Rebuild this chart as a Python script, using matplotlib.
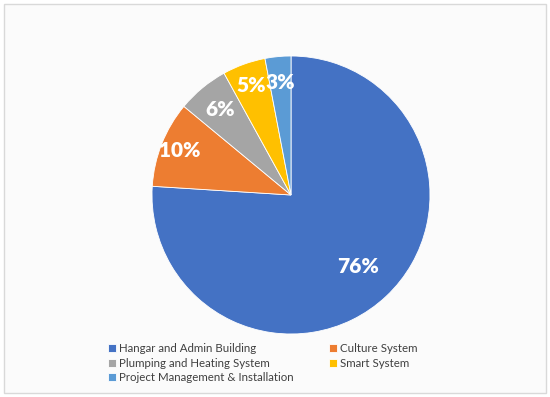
import matplotlib
matplotlib.use("Agg")
import matplotlib.pyplot as plt
import numpy as np
from matplotlib.patches import Rectangle

categories = ["Hangar and Admin Building", "Culture System",
              "Plumping and Heating System", "Smart System",
              "Project Management & Installation"]
values = [76, 10, 6, 5, 3]
labels = ["76%", "10%", "6%", "5%", "3%"]
colors = ["#4472C4", "#ED7D31", "#A5A5A5", "#FFC000", "#5B9BD5"]
label_dist = [0.71, 0.86, 0.80, 0.84, 0.81]

plt.rcParams['font.family'] = ['Lato', 'DejaVu Sans']

fig = plt.figure(figsize=(5.5, 3.97), dpi=100)
fig.patch.set_facecolor("white")
# frame
frame = Rectangle((4/550, 4/397), 542/550, 389/397, transform=fig.transFigure,
                  facecolor="#fbfbfb", edgecolor="#d9d9d9", linewidth=1.0, zorder=-10)
fig.add_artist(frame)

cx, cy, r = 291, 397 - 195, 139
ax = fig.add_axes([(cx - r)/550, (cy - r)/397, 2*r/550, 2*r/397])
ax.set_zorder(5)
ax.patch.set_alpha(0)
wedges, _ = ax.pie(values, colors=colors, startangle=90, counterclock=False,
                   radius=1.0, wedgeprops=dict(edgecolor="white", linewidth=0.6))
for w, lab, d in zip(wedges, labels, label_dist):
    ang = np.deg2rad((w.theta1 + w.theta2) / 2)
    ax.text(d*np.cos(ang), d*np.sin(ang), lab, ha="center", va="center",
            color="white", fontsize=15, fontweight="heavy")
ax.set_xlim(-1, 1); ax.set_ylim(-1, 1)
ax.set_aspect("equal")
ax.axis("off")

order = [0, 2, 4, 1, 3]
leg = fig.legend([wedges[i] for i in order], [categories[i] for i in order],
                 loc="upper left", ncol=2,
                 bbox_to_anchor=(108/550, 1 - 343/397), frameon=False,
                 fontsize=8.3, handlelength=0.7, handleheight=0.7,
                 handletextpad=0.25, columnspacing=3.1, labelspacing=0.32,
                 borderaxespad=0, borderpad=0)
for t in leg.get_texts():
    t.set_color("#404040")

fig.savefig("out.png", dpi=100)
